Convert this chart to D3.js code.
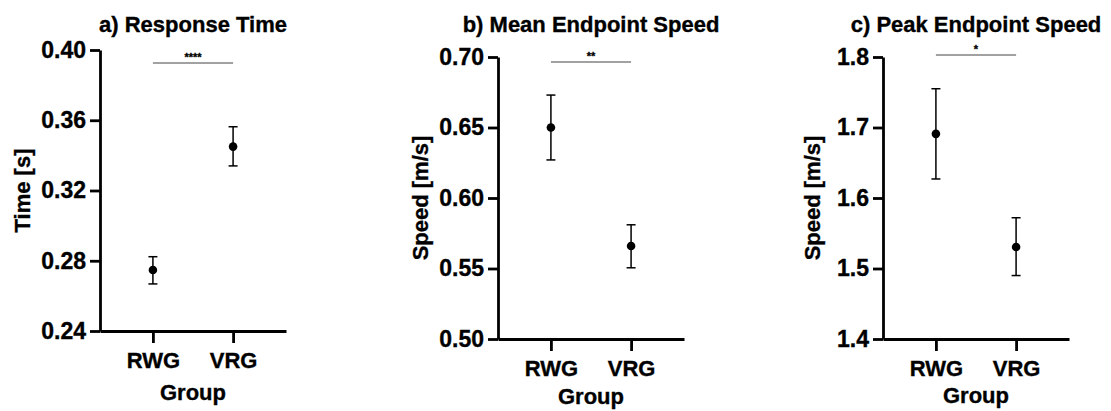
<!DOCTYPE html>
<html lang="en">
  <head>
    <meta charset="utf-8" />
    <title>Response Time and Endpoint Speed</title>
    <style>
      body {
        margin: 0;
        background: white;
      }
      text {
        font-family: "Liberation Sans", Arial, Helvetica, sans-serif;
        font-weight: bold;
        fill: black;
        stroke: black;
        stroke-width: 0.35px;
      }
      .axis path,
      .axis line {
        stroke: black;
        stroke-width: 2.8px;
      }
      .axis text {
        font-size: 23px;
      }
      .axis.cat text {
        font-size: 22px;
      }
    </style>
    <script src="https://d3js.org/d3.v7.min.js"></script>
  </head>

  <body>
    <svg width="1111" height="411"></svg>

    <script>
      // groups on the x axis
      var groups = ["RWG", "VRG"];

      // a) response time [s]
      var timeMean = [0.2747, 0.345];
      var timeLow = [0.2668, 0.334];
      var timeHigh = [0.2823, 0.3563];
      var timeTicks = [0.24, 0.28, 0.32, 0.36, 0.4];

      // b) mean endpoint speed [m/s]
      var meanSpeed = [0.65, 0.566];
      var meanSpeedLow = [0.627, 0.5505];
      var meanSpeedHigh = [0.673, 0.581];
      var meanSpeedTicks = [0.5, 0.55, 0.6, 0.65, 0.7];

      // c) peak endpoint speed [m/s]
      var peakSpeed = [1.691, 1.5305];
      var peakSpeedLow = [1.627, 1.49];
      var peakSpeedHigh = [1.755, 1.572];
      var peakSpeedTicks = [1.4, 1.5, 1.6, 1.7, 1.8];

      var titles = ["a) Response Time", "b) Mean Endpoint Speed", "c) Peak Endpoint Speed"];
      var yLabels = ["Time [s]", "Speed [m/s]", "Speed [m/s]"];
      var stars = ["****", "**", "*"];

      var svg = d3.select("svg");

      // layout of each panel (axis origin, heights)
      var panels = [
        { left: 100, top: 50, bottom: 331, mean: timeMean, lo: timeLow, hi: timeHigh, ticks: timeTicks, fmt: ".2f", labelX: 22, sigY: 63, groupY: 394 },
        { left: 498, top: 57, bottom: 339, mean: meanSpeed, lo: meanSpeedLow, hi: meanSpeedHigh, ticks: meanSpeedTicks, fmt: ".2f", labelX: 420, sigY: 62, groupY: 398 },
        { left: 883, top: 57, bottom: 339, mean: peakSpeed, lo: peakSpeedLow, hi: peakSpeedHigh, ticks: peakSpeedTicks, fmt: ".1f", labelX: 812, sigY: 55, groupY: 397 }
      ];

      var axisWidth = 186;

      panels.forEach((p, i) => {
        var g = svg.append("g").attr("transform", `translate(${p.left},0)`);

        var x = d3.scalePoint().domain(groups).range([0, axisWidth]).padding(0.66);
        var y = d3
          .scaleLinear()
          .domain(d3.extent(p.ticks))
          .range([p.bottom, p.top]);

        // y axis
        g.append("g")
          .attr("class", "axis")
          .call(d3.axisLeft(y).tickValues(p.ticks).tickSize(10).tickSizeOuter(0).tickPadding(4).tickFormat(d3.format(p.fmt)));

        // x axis
        g.append("g")
          .attr("class", "axis cat")
          .attr("transform", `translate(0,${p.bottom})`)
          .call(d3.axisBottom(x).tickSize(12).tickSizeOuter(0).tickPadding(9));

        // error bars
        var bars = g
          .selectAll(".err")
          .data(groups)
          .enter()
          .append("g")
          .attr("class", "err")
          .attr("stroke", "black")
          .attr("stroke-width", 1.5);

        bars.append("line")
          .attr("x1", (d) => x(d))
          .attr("x2", (d) => x(d))
          .attr("y1", (d, j) => y(p.lo[j]))
          .attr("y2", (d, j) => y(p.hi[j]));
        bars.append("line")
          .attr("x1", (d) => x(d) - 4.5)
          .attr("x2", (d) => x(d) + 4.5)
          .attr("y1", (d, j) => y(p.hi[j]))
          .attr("y2", (d, j) => y(p.hi[j]));
        bars.append("line")
          .attr("x1", (d) => x(d) - 4.5)
          .attr("x2", (d) => x(d) + 4.5)
          .attr("y1", (d, j) => y(p.lo[j]))
          .attr("y2", (d, j) => y(p.lo[j]));

        // mean markers
        g.selectAll(".dot")
          .data(groups)
          .enter()
          .append("circle")
          .attr("class", "dot")
          .attr("cx", (d) => x(d))
          .attr("cy", (d, j) => y(p.mean[j]))
          .attr("r", 4.3)
          .attr("fill", "black");

        // significance bracket
        g.append("line")
          .attr("x1", x(groups[0]))
          .attr("x2", x(groups[1]))
          .attr("y1", p.sigY)
          .attr("y2", p.sigY)
          .attr("stroke", "#444")
          .attr("stroke-width", 1);
        g.append("text")
          .attr("x", (x(groups[0]) + x(groups[1])) / 2)
          .attr("y", p.sigY - 2)
          .attr("text-anchor", "middle")
          .attr("font-size", "11px")
          .attr("stroke-width", 0)
          .text(stars[i]);

        // panel title
        g.append("text")
          .attr("x", axisWidth / 2)
          .attr("y", 32)
          .attr("text-anchor", "middle")
          .attr("font-size", "22px")
          .text(titles[i]);

        // x axis title
        g.append("text")
          .attr("x", (x(groups[0]) + x(groups[1])) / 2)
          .attr("y", p.groupY + 6)
          .attr("text-anchor", "middle")
          .attr("font-size", "22px")
          .text("Group");

        // y axis title
        svg.append("text")
          .attr("transform", `translate(${p.labelX + 8},${(p.top + p.bottom) / 2}) rotate(-90)`)
          .attr("text-anchor", "middle")
          .attr("font-size", "22px")
          .text(yLabels[i]);
      });
    </script>
  </body>
</html>
